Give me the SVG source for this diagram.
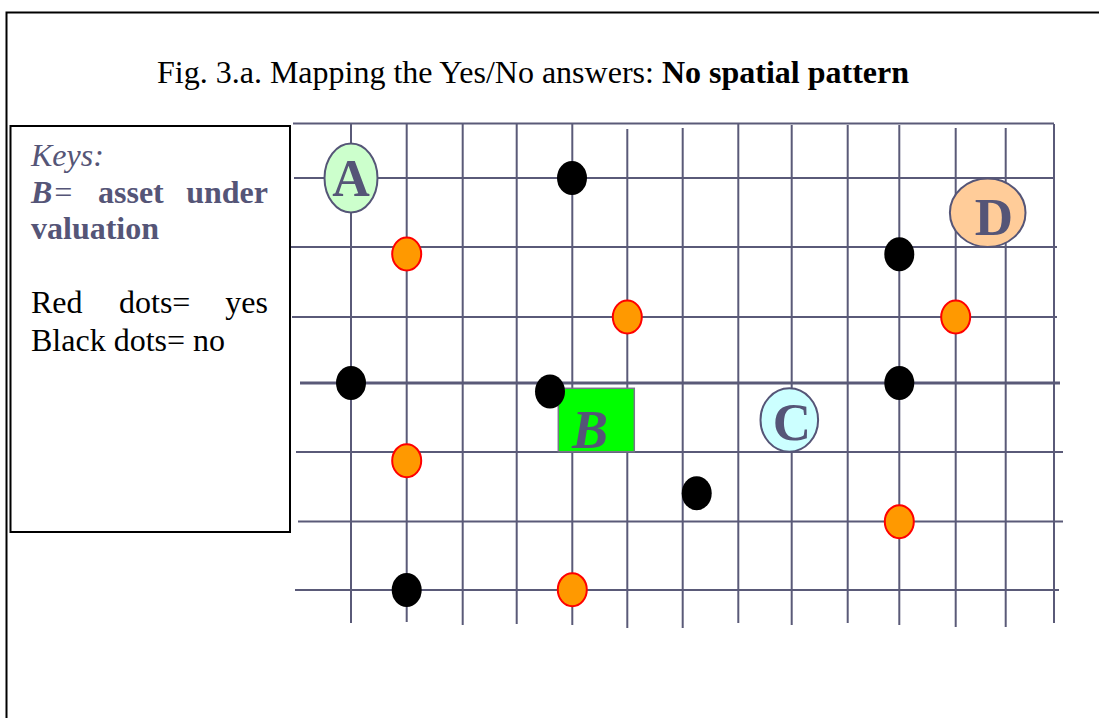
<svg xmlns="http://www.w3.org/2000/svg" width="1099" height="718" viewBox="0 0 1099 718">
<style>
.g{stroke:#5a5a78;stroke-width:2;fill:none}
.gt{stroke:#5a5a78;stroke-width:3;fill:none}
.bk{fill:#000}
.or{fill:#ff9900;stroke:#ff0000;stroke-width:2}
.lab{font-family:"Liberation Serif",serif;font-weight:bold;fill:#555577;text-anchor:middle}
.t{font-family:"Liberation Serif",serif;font-size:32px}
.k{fill:#555577}
</style>
<rect x="0" y="0" width="1099" height="718" fill="#fff"/>
<rect id="frame" x="6.5" y="12.5" width="1100" height="720" fill="none" stroke="#000" stroke-width="2"/>
<g id="title">
<text x="157" y="83" font-family="Liberation Serif, serif" font-size="32" fill="#000">Fig. 3.a. Mapping the Yes/No answers: <tspan font-weight="bold">No spatial pattern</tspan></text>
</g>
<g id="grid">
<line class="g" x1="293" y1="123.5" x2="1054" y2="123.5"/>
<line class="g" x1="294" y1="178" x2="1054" y2="178"/>
<line class="g" x1="290" y1="247" x2="1057" y2="247"/>
<line class="g" x1="292" y1="317" x2="1057" y2="317"/>
<line class="gt" x1="300" y1="383" x2="1060" y2="383"/>
<line class="g" x1="296" y1="452" x2="1063" y2="452"/>
<line class="g" x1="298" y1="521.5" x2="1063" y2="521.5"/>
<line class="g" x1="295" y1="590" x2="1059" y2="590"/>
<line class="g" x1="351" y1="124" x2="351" y2="623"/>
<line class="g" x1="406.7" y1="123" x2="406.7" y2="622"/>
<line class="g" x1="462.7" y1="124" x2="462.7" y2="625"/>
<line class="g" x1="516.7" y1="124" x2="516.7" y2="624"/>
<line class="g" x1="572.3" y1="124" x2="572.3" y2="625"/>
<line class="g" x1="627.3" y1="129" x2="627.3" y2="628"/>
<line class="g" x1="682.7" y1="128" x2="682.7" y2="628"/>
<line class="g" x1="738.3" y1="124" x2="738.3" y2="623"/>
<line class="g" x1="791.7" y1="125" x2="791.7" y2="625"/>
<line class="g" x1="847.7" y1="125" x2="847.7" y2="623"/>
<line class="g" x1="899.3" y1="125" x2="899.3" y2="625"/>
<line class="g" x1="955.7" y1="128" x2="955.7" y2="627"/>
<line class="g" x1="1005.7" y1="128" x2="1005.7" y2="627"/>
<line class="g" x1="1054" y1="124" x2="1054" y2="623"/>
</g>
<g id="keys">
<rect x="10.5" y="126" width="279.5" height="406" fill="#fff" stroke="#000" stroke-width="2"/>
<text class="t k" x="31" y="166" font-style="italic">Keys:</text>
<text class="t k" x="31" y="203"><tspan font-weight="bold" font-style="italic">B</tspan><tspan font-style="italic">=</tspan></text>
<text class="t k" x="98" y="203" font-weight="bold">asset</text>
<text class="t k" x="268" y="203" font-weight="bold" text-anchor="end">under</text>
<text class="t k" x="31" y="239" font-weight="bold">valuation</text>
<text class="t" x="31" y="313">Red</text>
<text class="t" x="119" y="313">dots=</text>
<text class="t" x="268" y="313" text-anchor="end">yes</text>
<text class="t" x="31" y="351">Black dots= no</text>
</g>
<g id="nodeA">
<ellipse cx="351" cy="178" rx="26.5" ry="34.5" fill="#ccffcc" stroke="#555577" stroke-width="2"/>
<text class="lab" x="351" y="196" font-size="52">A</text>
</g>
<g id="nodeB">
<rect x="558.3" y="388.3" width="76" height="63.4" fill="#00ff00" stroke="#777788" stroke-width="1.5"/>
<text class="lab" x="590" y="448" font-size="54" font-style="italic">B</text>
</g>
<g id="nodeC">
<ellipse cx="789.3" cy="420" rx="28.8" ry="31.7" fill="#ccffff" stroke="#555577" stroke-width="2"/>
<text class="lab" x="792" y="440" font-size="53">C</text>
</g>
<g id="nodeD">
<ellipse cx="987.7" cy="212.7" rx="37.8" ry="34.2" fill="#ffcc99" stroke="#555577" stroke-width="2"/>
<text class="lab" x="994" y="235" font-size="53">D</text>
</g>
<g id="dots">
<ellipse class="bk" cx="572" cy="178" rx="15" ry="17"/>
<ellipse class="bk" cx="351" cy="383" rx="15" ry="17"/>
<ellipse class="bk" cx="550" cy="391.5" rx="15" ry="17"/>
<ellipse class="bk" cx="899.3" cy="254.3" rx="15" ry="17"/>
<ellipse class="bk" cx="899.3" cy="383" rx="15" ry="17"/>
<ellipse class="bk" cx="406.7" cy="590" rx="15" ry="17"/>
<ellipse class="bk" cx="696.7" cy="493.3" rx="15" ry="17"/>
<ellipse class="or" cx="406.7" cy="254" rx="14.5" ry="16.5"/>
<ellipse class="or" cx="627.3" cy="317" rx="14.5" ry="16.5"/>
<ellipse class="or" cx="955.7" cy="317" rx="14.5" ry="16.5"/>
<ellipse class="or" cx="406.7" cy="460.7" rx="14.5" ry="16.5"/>
<ellipse class="or" cx="572.3" cy="589.7" rx="14.5" ry="16.5"/>
<ellipse class="or" cx="899.3" cy="521.7" rx="14.5" ry="16.5"/>
</g>
</svg>
